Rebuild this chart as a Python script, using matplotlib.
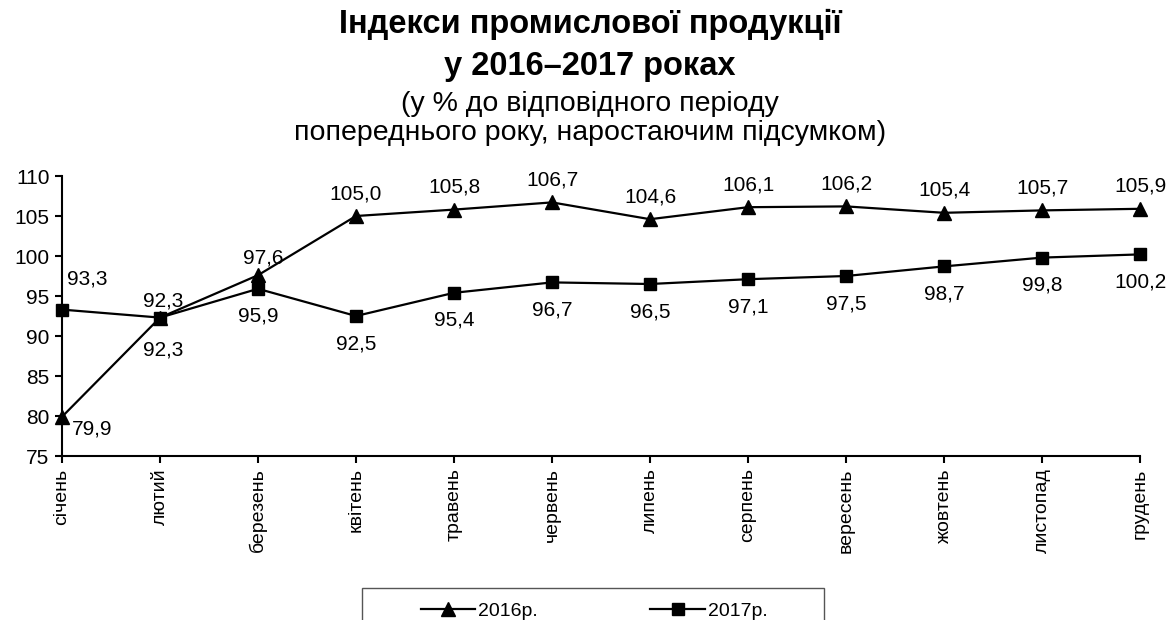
import matplotlib.pyplot as plt
from matplotlib.lines import Line2D
from matplotlib.patches import Rectangle

# Data
months = ["січень", "лютий", "березень", "квітень", "травень", "червень",
          "липень", "серпень", "вересень", "жовтень", "листопад", "грудень"]
idx_2016 = [79.9, 92.3, 97.6, 105.0, 105.8, 106.7, 104.6, 106.1, 106.2, 105.4, 105.7, 105.9]
idx_2017 = [93.3, 92.3, 95.9, 92.5, 95.4, 96.7, 96.5, 97.1, 97.5, 98.7, 99.8, 100.2]
series_names = ["2016р.", "2017р."]

title_lines = ["Індекси промислової продукції", "у 2016–2017 роках"]
subtitle_lines = ["(у % до відповідного періоду",
                  "попереднього року, наростаючим підсумком)"]

plt.rcParams["font.family"] = ["Liberation Sans", "DejaVu Sans"]

W, H = 1173, 620
fig = plt.figure(figsize=(W / 100, H / 100), dpi=100)
ax = fig.add_axes([62 / W, 1 - 456 / H, (1140 - 62) / W, 280 / H])

x = list(range(len(months)))
ax.plot(x, idx_2016, color="black", lw=1.6, marker="^", ms=10, clip_on=False, zorder=3)
ax.plot(x, idx_2017, color="black", lw=1.6, marker="s", ms=8, clip_on=False, zorder=3)

ax.set_xlim(0, 11)
ax.set_ylim(75, 110)
ax.set_yticks(range(75, 111, 5))
ax.set_xticks(x)
ax.set_xticklabels(months, rotation=90, fontsize=14)
ax.tick_params(axis="y", labelsize=15, length=5, width=1.5, direction="out", pad=4)
ax.tick_params(axis="x", length=5, width=1.5, direction="out", pad=4)
for side in ["top", "right"]:
    ax.spines[side].set_visible(False)
for side in ["left", "bottom"]:
    ax.spines[side].set_linewidth(1.5)

fmt = lambda v: f"{v:.1f}".replace(".", ",")


def label(i, v, dx, dy, ha="center"):
    ax.annotate(fmt(v), (i, v), xytext=(dx, dy), textcoords="offset pixels",
                ha=ha, va="baseline", fontsize=15)


# data labels: 2016 above, 2017 below, with the exceptions of the source
for i, v in enumerate(idx_2016):
    if i == 0:
        label(i, v, 10, -18, ha="left")
    elif i == 1:
        label(i, v, 3, -38)
    elif i == 2:
        label(i, v, 5, 12)
    else:
        label(i, v, 0, 17)
for i, v in enumerate(idx_2017):
    if i == 0:
        label(i, v, 25, 25)
    elif i == 1:
        label(i, v, 3, 11)
    else:
        label(i, v, 0, -33)

# title and subtitle, one line at a time
cx = 590 / W
fig.text(cx, 1 - 33 / H, title_lines[0], ha="center", va="baseline",
         fontsize=23.5, fontweight="bold")
fig.text(cx, 1 - 75 / H, title_lines[1], ha="center", va="baseline",
         fontsize=23.5, fontweight="bold")
fig.text(cx, 1 - 111 / H, subtitle_lines[0], ha="center", va="baseline", fontsize=20.5)
fig.text(cx, 1 - 140 / H, subtitle_lines[1], ha="center", va="baseline", fontsize=20.5)

# legend (box runs off the bottom edge as in the source)
handles = [
    Line2D([], [], color="black", lw=1.6, marker="^", ms=10),
    Line2D([], [], color="black", lw=1.6, marker="s", ms=8),
]
fig.legend(handles, series_names, loc="center",
           bbox_to_anchor=(594 / W, 1 - 611 / H), ncol=2, fontsize=14,
           frameon=False, handlelength=2.8, handletextpad=0.15,
           columnspacing=5.8, borderpad=0, borderaxespad=0)
fig.patches.append(Rectangle((362 / W, -0.1), (824 - 362) / W, 0.1 + 32 / H,
                             transform=fig.transFigure, fill=False,
                             edgecolor="#555555", lw=1))

fig.savefig("out.png", dpi=100)
